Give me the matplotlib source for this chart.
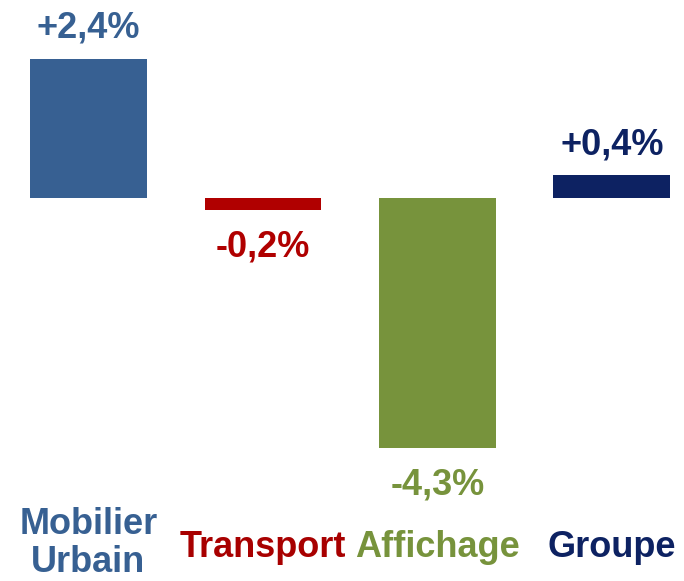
import matplotlib
matplotlib.use("Agg")
import matplotlib.pyplot as plt
from matplotlib.transforms import blended_transform_factory

categories = ["Mobilier\nUrbain", "Transport", "Affichage", "Groupe"]
values = [2.4, -0.2, -4.3, 0.4]
value_labels = ["+2,4%", "-0,2%", "-4,3%", "+0,4%"]
colors = ["#376092", "#B00000", "#77933C", "#0D2262"]
cat_colors = ["#376092", "#A80000", "#77933C", "#0D2262"]

plt.rcParams['font.family'] = ['Liberation Sans', 'DejaVu Sans']

fig = plt.figure(figsize=(6.84, 5.81), dpi=100)
ax = fig.add_axes([0, 0, 1, 1])
ax.set_xlim(-0.507, 3.413)
ax.set_ylim(-6.60, 3.414)
ax.axis('off')

x = list(range(len(categories)))
ax.bar(x, values, width=0.67, color=colors)

for xi, v, lab, c in zip(x, values, value_labels, colors):
    off = 15 if v >= 0 else -34
    ax.annotate(lab, (xi, v), xytext=(0, off), textcoords='offset points',
                ha='center', va='baseline', fontsize=26, fontweight='bold', color=c)

trans = blended_transform_factory(ax.transData, ax.transAxes)
for xi, cat, c in zip(x, categories, cat_colors):
    y = 9 / 581 if "\n" in cat else 24 / 581
    ax.text(xi, y, cat, transform=trans, ha='center', va='baseline',
            fontsize=26, fontweight='bold', color=c, linespacing=1.12)

fig.savefig("out.png", dpi=100)
